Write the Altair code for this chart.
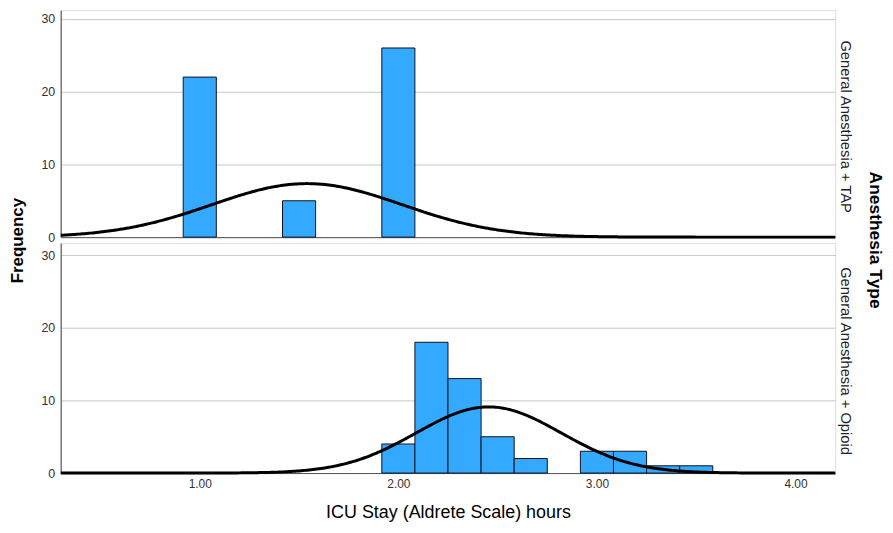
import altair as alt
import pandas as pd

# ---- data ----
bin_width = 1.0 / 6.0

tap_centers = [1.0, 1.5, 2.0]
tap_counts = [22, 5, 26]

opioid_centers = [2.0, 2.1667, 2.3333, 2.5, 2.6667, 3.0, 3.1667, 3.3333, 3.5]
opioid_counts = [4, 18, 13, 5, 2, 3, 3, 1, 1]

# normal-curve parameters (mean, sd, n)
tap_curve = (1.54, 0.479, 53)
opioid_curve = (2.455, 0.365, 50)

panel_labels = ["General Anesthesia + TAP", "General Anesthesia + Opioid"]
x_ticks = [1.0, 2.0, 3.0, 4.0]
y_ticks = [0, 10, 20, 30]

X_DOMAIN = [0.3, 4.2]
W = 778
FONT = "Liberation Sans"
BAR_FILL = "#33AAFF"


def panel(centers, counts, curve, label, height, ymax, top):
    df = pd.DataFrame({"center": centers, "count": counts})
    xs = alt.Scale(domain=X_DOMAIN, nice=False, zero=False)
    ys = alt.Scale(domain=[0, ymax], nice=False)
    if top:
        xaxis = alt.Axis(labels=False, ticks=False, title=None, grid=False,
                         domainColor="#555555", domainWidth=1)
        yaxis = alt.Axis(values=y_ticks, grid=True, gridColor="#c8c8c8", ticks=False,
                         domainColor="#777777", domainWidth=1.5, labelPadding=6,
                         labelFont=FONT, labelFontSize=12.5, labelColor="#333333",
                         title="Frequency", titleFont=FONT, titleFontSize=17,
                         titleFontWeight="bold", titleColor="#000000",
                         titleAngle=270, titleX=-34, titleY=231,
                         titleBaseline="bottom", titleAlign="center")
    else:
        xaxis = alt.Axis(values=x_ticks, format=".2f", ticks=False, grid=False,
                         domainColor="#555555", domainWidth=1, labelPadding=6,
                         labelFont=FONT, labelFontSize=12, labelColor="#333333",
                         title="ICU Stay (Aldrete Scale) hours", titleFont=FONT,
                         titleFontSize=18, titleFontWeight="normal", titleColor="#000000",
                         titlePadding=14)
        yaxis = alt.Axis(values=y_ticks, grid=True, gridColor="#c8c8c8", ticks=False,
                         domainColor="#777777", domainWidth=1.5, labelPadding=6,
                         labelFont=FONT, labelFontSize=12.5, labelColor="#333333",
                         title=None)

    bars = alt.Chart(df).transform_calculate(
        x0=f"datum.center - {bin_width / 2}",
        x1=f"datum.center + {bin_width / 2}",
    ).mark_bar(fill=BAR_FILL, stroke="#111122", strokeWidth=1).encode(
        x=alt.X("x0:Q", scale=xs, axis=xaxis),
        x2="x1:Q",
        y=alt.Y("count:Q", scale=ys, axis=yaxis),
        y2=alt.datum(0),
    )

    m, s, n = curve
    line = alt.Chart(alt.sequence(start=X_DOMAIN[0], stop=X_DOMAIN[1] + 0.001, step=0.01, as_="x")).transform_calculate(
        dens=f"{n} * {bin_width} * exp(-0.5 * pow((datum.x - {m}) / {s}, 2)) / ({s} * sqrt(2 * PI))"
    ).mark_line(color="#000000", strokeWidth=3).encode(
        x=alt.X("x:Q", scale=xs),
        y=alt.Y("dens:Q", scale=ys),
    )

    lab = alt.Chart(pd.DataFrame({"t": [label]})).mark_text(
        angle=90, font=FONT, fontSize=14.8, color="#222222", align="center", baseline="middle"
    ).encode(text="t:N", x=alt.value(W + 10), y=alt.value(height / 2 + 3))

    layers = [bars, line, lab]
    if top:
        ttl = alt.Chart(pd.DataFrame({"t": ["Anesthesia Type"]})).mark_text(
            angle=90, font=FONT, fontSize=17.5, fontWeight="bold", color="#000000",
            align="center", baseline="middle"
        ).encode(text="t:N", x=alt.value(W + 40), y=alt.value(231))
        layers.append(ttl)

    return alt.layer(*layers).properties(width=W, height=height)


top_panel = panel(tap_centers, tap_counts, tap_curve, panel_labels[0], 228, 31.2, True)
bottom_panel = panel(opioid_centers, opioid_counts, opioid_curve, panel_labels[1], 231, 31.65, False)

chart = alt.vconcat(top_panel, bottom_panel, spacing=6, bounds="flush").properties(
    padding={"left": 0, "top": 0, "right": 0, "bottom": 0}
).configure_view(stroke=None).configure(background="white")

chart.save("out.html", embed_options={"renderer": "svg", "actions": False})
